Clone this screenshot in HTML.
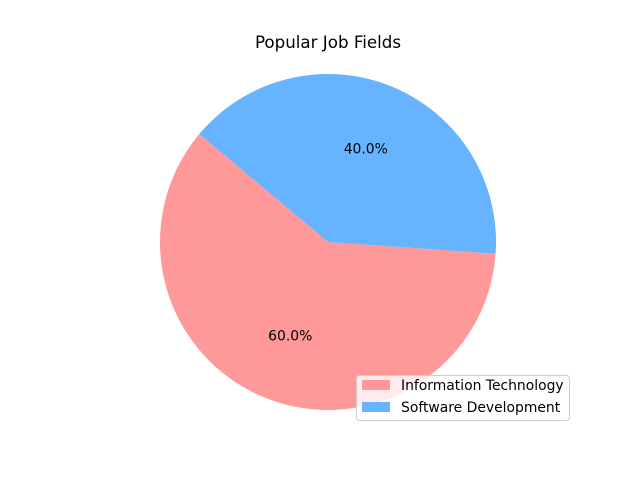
<!DOCTYPE html>
<html>
<head>
<meta charset="utf-8">
<style>
  html,body{margin:0;padding:0;background:#fff;}
  svg{display:block;font-family:"DejaVu Sans","Liberation Sans",sans-serif;}
</style>
</head>
<body>
<svg id="chart" width="640" height="480" viewBox="0 0 640 480">
  <rect width="640" height="480" fill="#fff"/>
  <text x="328" y="48" text-anchor="middle" font-size="16.7" fill="#000">Popular Job Fields</text>
  <g id="slices"></g>
  <g>
    <rect x="356.5" y="375.5" width="213" height="45" rx="3" fill="#fff" fill-opacity="0.8" stroke="#ccc"/>
    <g id="legend-items"></g>
  </g>
</svg>
<script>
const categories = ["Information Technology", "Software Development"];
const values = [60, 40];
const colors = ["#ff9999", "#66b3ff"];
const startAngle = 140;

const cx = 328, cy = 242, r = 168;
const svgNS = "http://www.w3.org/2000/svg";
const slices = document.getElementById("slices");
const legendItems = document.getElementById("legend-items");
const total = values.reduce((a, b) => a + b, 0);
function pt(deg, rad) {
  const a = deg * Math.PI / 180;
  return [cx + rad * Math.cos(a), cy - rad * Math.sin(a)];
}
let ang = startAngle;
values.forEach((v, i) => {
  const sweep = v / total * 360;
  const [x1, y1] = pt(ang, r);
  const [x2, y2] = pt(ang + sweep, r);
  const large = sweep > 180 ? 1 : 0;
  const path = document.createElementNS(svgNS, "path");
  path.setAttribute("d", `M${cx},${cy} L${x1},${y1} A${r},${r} 0 ${large} 0 ${x2},${y2} Z`);
  path.setAttribute("fill", colors[i]);
  
  
  slices.appendChild(path);
  const [lx, ly] = pt(ang + sweep / 2, r * 0.6);
  const t = document.createElementNS(svgNS, "text");
  t.setAttribute("x", lx);
  t.setAttribute("y", ly + 5);
  t.setAttribute("text-anchor", "middle");
  t.setAttribute("font-size", "13.9");
  t.textContent = (v / total * 100).toFixed(1) + "%";
  
  
  slices.appendChild(t);
  ang += sweep;

  const ly0 = 380 + i * 22;
  const sw = document.createElementNS(svgNS, "rect");
  sw.setAttribute("x", 362); sw.setAttribute("y", ly0);
  sw.setAttribute("width", 28); sw.setAttribute("height", 10);
  sw.setAttribute("fill", colors[i]);
  
  
  legendItems.appendChild(sw);
  const lt = document.createElementNS(svgNS, "text");
  lt.setAttribute("x", 401); lt.setAttribute("y", ly0 + 10);
  lt.setAttribute("font-size", "13.9");
  lt.textContent = categories[i];
  
  
  legendItems.appendChild(lt);
});
</script>
</body>
</html>
